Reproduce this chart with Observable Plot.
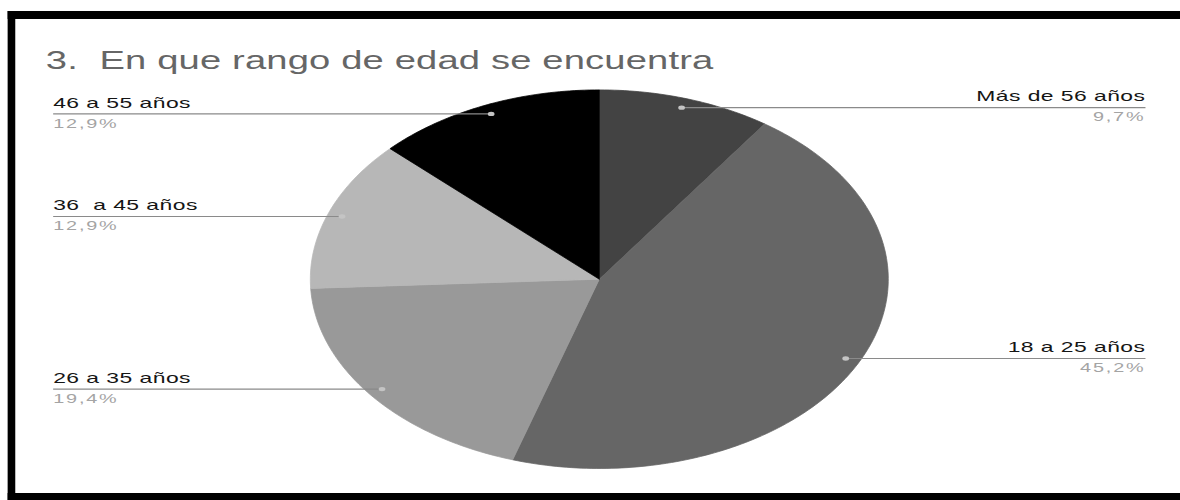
<!DOCTYPE html>
<html><head><meta charset="utf-8">
<script src="https://cdn.jsdelivr.net/npm/d3@7"></script>
<script src="https://cdn.jsdelivr.net/npm/@observablehq/plot@0.6"></script>
<style>
html,body{margin:0;padding:0;background:#fff;overflow:hidden;width:1180px;height:500px;}
#wrap{position:absolute;left:0;top:0;width:773px;height:500px;transform-origin:0 0;transform:scaleX(1.52652);font-family:"Liberation Sans",Arial,sans-serif;}
#frame{position:absolute;left:4.6px;top:11px;width:900px;height:490px;box-sizing:border-box;border-top:8px solid #000;border-left:5.24px solid #000;border-bottom:8px solid #000;}
#title{position:absolute;left:30px;top:47.5px;font-size:25px;line-height:25px;color:#666;white-space:pre;letter-spacing:0.1px;}
#chart{position:absolute;left:0;top:80px;}
#chart svg text{white-space:pre;}
</style>
</head>
<body>
<div id="wrap">
  <div id="frame"></div>
  <div id="title">3.  En que rango de edad se encuentra</div>
  <div id="chart"></div>
</div>
<script>
const labels = ["Más de 56 años", "18 a 25 años", "26 a 35 años", "36  a 45 años", "46 a 55 años"];
const values = [9.7, 45.2, 19.4, 12.9, 12.9];
const pctLabels = ["9,7%", "45,2%", "19,4%", "12,9%", "12,9%"];
const colors = ["#434343", "#666666", "#999999", "#b7b7b7", "#000000"];

const arcs = d3.pie().sort(null).value(d => d)(values);
const slicePts = [];
arcs.forEach((a, i) => {
  const n = Math.max(2, Math.ceil((a.endAngle - a.startAngle) / (Math.PI / 180)));
  slicePts.push({label: labels[i], x: 0, y: 0});
  for (let k = 0; k <= n; k++) {
    const t = a.startAngle + (a.endAngle - a.startAngle) * k / n;
    slicePts.push({label: labels[i], x: Math.sin(t), y: Math.cos(t)});
  }
  slicePts.push({label: labels[i], x: 0, y: 0});
});
const LABEL_X = 1.89, DOT_R = 0.95;
const anchors = arcs.map((a, i) => {
  const m = (a.startAngle + a.endAngle) / 2;
  const x = DOT_R * Math.sin(m), y = DOT_R * Math.cos(m);
  const side = x < 0 ? -1 : 1;
  return {label: labels[i], pct: pctLabels[i], x, y, side, lx: side * LABEL_X};
});

const chart = Plot.plot({
  width: 773,
  height: 410,
  marginTop: 9.4,
  marginBottom: 22,
  marginLeft: 202.8,
  marginRight: 191.6,
  x: {domain: [-1, 1], axis: null},
  y: {domain: [-1, 1], axis: null},
  color: {domain: labels, range: colors},
  style: {fontFamily: "'Liberation Sans', Arial, sans-serif", background: "transparent", overflow: "visible"},
  marks: [
    Plot.line(slicePts, {x: "x", y: "y", z: "label", fill: "label", stroke: "label", strokeWidth: 0.6, curve: "linear"}),
    Plot.link(anchors, {x1: "x", y1: "y", x2: "lx", y2: "y", stroke: "#8a8a8a", strokeWidth: 1.2}),
    Plot.dot(anchors, {x: "x", y: "y", r: 2.2, fill: "#c4c4c4", stroke: "none"}),
    Plot.text(anchors, {filter: d => d.side < 0, x: "lx", y: "y", text: "label", textAnchor: "start", fontSize: 15, dy: -11, fill: "#151515"}),
    Plot.text(anchors, {filter: d => d.side > 0, x: "lx", y: "y", text: "label", textAnchor: "end", fontSize: 15, dy: -11, fill: "#151515"}),
    Plot.text(anchors, {filter: d => d.side < 0, x: "lx", y: "y", text: "pct", textAnchor: "start", fontSize: 13, dy: 9.5, fill: "#a4a4a4"}),
    Plot.text(anchors, {filter: d => d.side > 0, x: "lx", y: "y", text: "pct", textAnchor: "end", fontSize: 13, dy: 9.5, fill: "#a4a4a4"})
  ]
});
document.getElementById("chart").appendChild(chart);
d3.select(chart).selectAll("text").each(function() {
  const t = d3.select(this);
  if (/%$/.test(t.text())) t.style("letter-spacing", "1.2px");
  else t.style("letter-spacing", "0.3px");
});
</script>
</body></html>
